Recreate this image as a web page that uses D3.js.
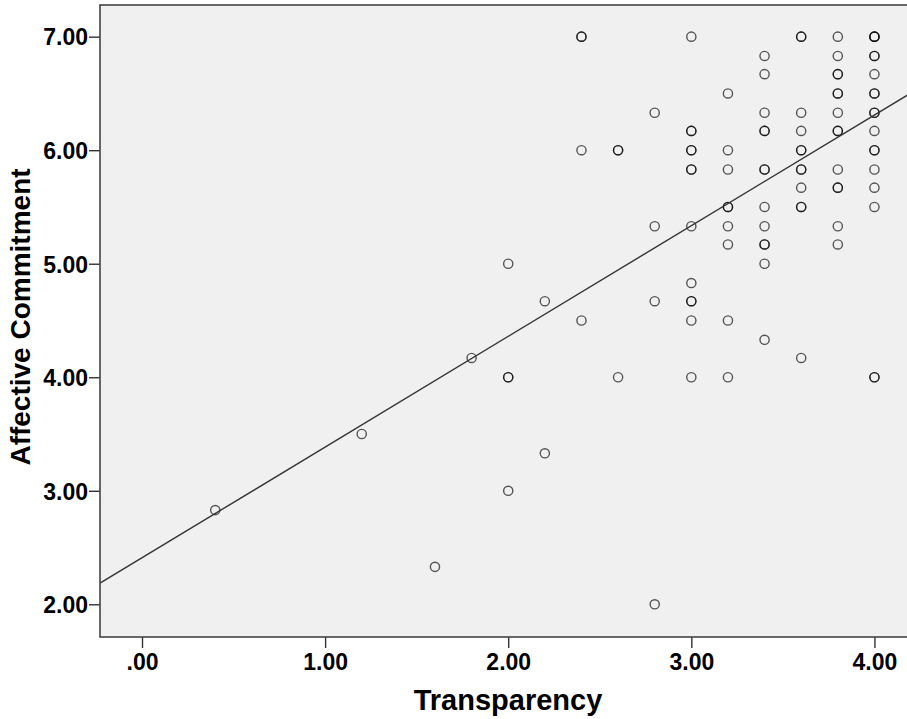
<!DOCTYPE html>
<html>
<head>
<meta charset="utf-8">
<script src="https://cdn.jsdelivr.net/npm/d3@7"></script>
<style>
  body { margin: 0; background: #fff; }
  text { font-family: "Liberation Sans", Arial, sans-serif; font-weight: bold; fill: #000; }
</style>
</head>
<body>
<div id="chart"></div>
<script>
// scatter values (count = overlapping cases)
var transparency = [0.4, 1.2, 1.6, 1.8, 2.0, 2.0, 2.0, 2.2, 2.2, 2.4, 2.4, 2.4, 2.6, 2.6,
  2.8, 2.8, 2.8, 2.8, 3.0, 3.0, 3.0, 3.0, 3.0, 3.0, 3.0, 3.0, 3.0,
  3.2, 3.2, 3.2, 3.2, 3.2, 3.2, 3.2, 3.2,
  3.4, 3.4, 3.4, 3.4, 3.4, 3.4, 3.4, 3.4, 3.4, 3.4,
  3.6, 3.6, 3.6, 3.6, 3.6, 3.6, 3.6, 3.6,
  3.8, 3.8, 3.8, 3.8, 3.8, 3.8, 3.8, 3.8, 3.8, 3.8,
  4.0, 4.0, 4.0, 4.0, 4.0, 4.0, 4.0, 4.0, 4.0, 4.0, 4.0];
var commitment = [2.83, 3.50, 2.33, 4.17, 5.00, 4.00, 3.00, 4.67, 3.33, 7.00, 6.00, 4.50, 6.00, 4.00,
  6.33, 5.33, 4.67, 2.00, 7.00, 6.17, 6.00, 5.83, 5.33, 4.83, 4.67, 4.50, 4.00,
  6.50, 6.00, 5.83, 5.50, 5.33, 5.17, 4.50, 4.00,
  6.83, 6.67, 6.33, 6.17, 5.83, 5.50, 5.33, 5.17, 5.00, 4.33,
  7.00, 6.33, 6.17, 6.00, 5.83, 5.67, 5.50, 4.17,
  7.00, 6.83, 6.67, 6.50, 6.33, 6.17, 5.83, 5.67, 5.33, 5.17,
  7.00, 6.83, 6.67, 6.50, 6.33, 6.17, 6.00, 5.83, 5.67, 5.50, 4.00];
var count = [1, 1, 1, 1, 1, 2, 1, 1, 1, 2, 1, 1, 2, 1,
  1, 1, 1, 1, 1, 2, 2, 2, 1, 1, 2, 1, 1,
  1, 1, 1, 2, 1, 1, 1, 1,
  1, 1, 1, 2, 2, 1, 1, 2, 1, 1,
  2, 1, 1, 2, 2, 1, 2, 1,
  1, 1, 2, 2, 1, 2, 1, 2, 1, 1,
  3, 2, 1, 2, 2, 1, 2, 1, 1, 1, 2];

// fit line (linear)
var fitIntercept = 2.41;
var fitSlope = 0.975;

var xTicks = [0, 1, 2, 3, 4];
var yTicks = [2, 3, 4, 5, 6, 7];

var W = 907, H = 719;
var margin = {left: 100, top: 5};
var pw = 816, ph = 632;

var svg = d3.select("#chart").append("svg")
  .attr("width", W)
  .attr("height", H);

var x = d3.scaleLinear().domain([-0.2294, 4.227]).range([0, pw]);
var y = d3.scaleLinear().domain([1.712, 7.279]).range([ph, 0]);

var g = svg.append("g").attr("transform", "translate(" + margin.left + "," + margin.top + ")");

g.append("clipPath").attr("id", "clip")
  .append("rect").attr("width", pw).attr("height", ph);

g.append("rect")
  .attr("width", pw)
  .attr("height", ph)
  .style("fill", "#f0f0f0");

var fmt = function(d) { return d === 0 ? ".00" : d3.format(".2f")(d); };

var xAxis = g.append("g")
  .attr("transform", "translate(0," + ph + ")")
  .call(d3.axisBottom(x).tickValues(xTicks).tickFormat(fmt).tickSize(11).tickPadding(6));
var yAxis = g.append("g")
  .call(d3.axisLeft(y).tickValues(yTicks).tickFormat(fmt).tickSize(11).tickPadding(1));

[xAxis, yAxis].forEach(function(a) {
  a.select(".domain").remove();
  a.selectAll(".tick line").style("stroke", "#333").style("stroke-width", 1.4);
  a.selectAll(".tick text").style("font-size", "23px").style("font-family", "'Liberation Sans', Arial, sans-serif").style("font-weight", "bold").style("fill", "#000");
});
yAxis.selectAll(".tick text").attr("dy", "0.36em");

var plot = g.append("g").attr("clip-path", "url(#clip)");

// points, one circle per case so overlaps look darker
var pts = [];
transparency.forEach(function(t, i) {
  for (var k = 0; k < count[i]; k++) pts.push({x: t, y: commitment[i]});
});

plot.selectAll("circle")
  .data(pts)
  .enter()
  .append("circle")
  .attr("cx", function(d) { return x(d.x); })
  .attr("cy", function(d) { return y(d.y); })
  .attr("r", 4.6)
  .style("fill", "none")
  .style("stroke", "#000")
  .style("stroke-opacity", 0.65)
  .style("stroke-width", 1.4);

var xd = x.domain();
plot.append("line")
  .attr("x1", x(xd[0])).attr("y1", y(fitIntercept + fitSlope * xd[0]))
  .attr("x2", x(xd[1])).attr("y2", y(fitIntercept + fitSlope * xd[1]))
  .style("stroke", "#333")
  .style("stroke-width", 1.4);

// frame
g.append("rect")
  .attr("width", pw)
  .attr("height", ph)
  .style("fill", "none")
  .style("stroke", "#444")
  .style("stroke-width", 1.6);

svg.append("text")
  .attr("x", 508)
  .attr("y", 710)
  .attr("text-anchor", "middle")
  .style("font-size", "29px")
  .text("Transparency");

svg.append("text")
  .attr("transform", "translate(30," + (margin.top + ph / 2 - 4) + ") rotate(-90)")
  .attr("text-anchor", "middle")
  .style("font-size", "28px")
  .text("Affective Commitment");
</script>
</body>
</html>
